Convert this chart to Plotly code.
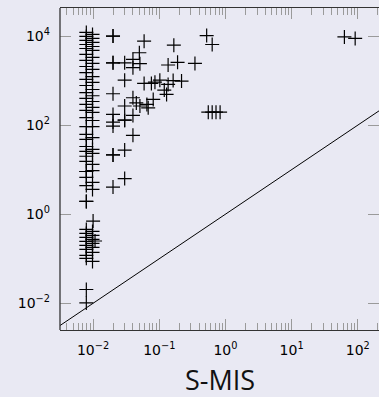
import plotly.graph_objects as go

# Dense column near S-MIS ~ 0.008
col_a_x = 0.0079
col_a_y = [12050, 9790, 7960, 6470, 5260, 3860, 2830, 2075, 1510, 1070, 776, 537, 398,
           292, 214, 148, 93, 62, 47.9, 33.1, 25.7, 20, 15.3, 9.1, 9.1, 6.7, 4.4, 1.94,
           1.94, 0.456, 0.371, 0.301, 0.245, 0.20, 0.162, 0.119, 0.102]
col_b_x = 0.0098
col_b_y = [10860, 8830, 7180, 5830, 4750, 3310, 2430, 1780, 1230, 912, 631, 457, 339,
           251, 193, 127, 93, 52.5, 28.5, 23.2, 13.2, 9.5, 5.2, 3.6, 0.411, 0.334,
           0.272, 0.221, 0.18, 0.139, 0.087]

# Scattered points
pts_x = [0.020, 0.020, 0.059, 0.166, 0.050, 0.020, 0.020, 0.030, 0.040, 0.040, 0.051,
         0.136, 0.189, 0.030, 0.059, 0.076, 0.086, 0.102, 0.136, 0.162, 0.217, 0.119,
         0.129, 0.020, 0.040, 0.030, 0.045, 0.051, 0.065, 0.068, 0.081, 0.020, 0.030,
         0.030, 0.040, 0.020, 0.020, 0.040, 0.020, 0.020, 0.030, 0.030, 0.020, 0.52,
         0.63, 0.346, 0.55, 0.63, 0.72, 0.83, 62.7, 91.2, 0.010, 0.0107, 0.0079, 0.0079]
pts_y = [10000, 10000, 7690, 6250, 4220, 2510, 2510, 2510, 2985, 1950, 2400,
         2240, 2570, 1023, 863, 863, 923, 1023, 820, 1000, 977, 611,
         490, 507, 412, 269, 316, 269, 292, 245, 378, 174, 129,
         129, 165, 117, 95, 59, 21.4, 21.4, 27.5, 6.3, 4.07, 10230,
         6460, 2430, 195, 195, 195, 195, 9550, 8830, 0.70, 0.25, 0.0204, 0.0102]

ref_line = [1e-3, 1e3]

x_tickvals = [0.01, 0.1, 1, 10, 100]
x_ticktext = ["10<sup>−2</sup>", "10<sup>−1</sup>", "10<sup>0</sup>", "10<sup>1</sup>", "10<sup>2</sup>"]
y_tickvals = [0.01, 1, 100, 10000]
y_ticktext = ["10<sup>−2</sup>", "10<sup>0</sup>", "10<sup>2</sup>", "10<sup>4</sup>"]

all_x = [col_a_x] * len(col_a_y) + [col_b_x] * len(col_b_y) + pts_x
all_y = col_a_y + col_b_y + pts_y

bg = "#E9E9F3"
tick_gray = "#9a9a9a"
axis_col = "#333333"
tfont = dict(family="DejaVu Sans", size=14, color="#000")

fig = go.Figure()
fig.add_trace(go.Scatter(x=ref_line, y=ref_line, mode="lines",
                         line=dict(color="black", width=1.0), hoverinfo="skip"))
fig.add_trace(go.Scatter(x=all_x, y=all_y, mode="markers",
                         marker=dict(symbol="cross-thin", size=10,
                                     line=dict(color="black", width=1.2))))

fig.update_xaxes(type="log", range=[-2.5, 2.32], showline=True, linecolor=axis_col,
                 linewidth=1.3, mirror="ticks", ticks="inside", ticklen=11,
                 tickcolor=tick_gray, tickwidth=1, tickmode="array",
                 tickvals=x_tickvals, ticktext=x_ticktext,
                 showgrid=False, zeroline=False,
                 minor=dict(ticks="inside", ticklen=7, tickcolor=tick_gray, dtick="D1",
                            showgrid=False),
                 tickfont=tfont, ticklabelstandoff=7)
fig.update_yaxes(type="log", range=[-2.6, 4.63], showline=False, mirror="ticks",
                 ticks="inside", ticklen=11, tickcolor=tick_gray, tickwidth=1,
                 tickmode="array", tickvals=y_tickvals, ticktext=y_ticktext,
                 showgrid=False, zeroline=False,
                 tickfont=tfont, ticklabelstandoff=9)

fig.add_shape(type="line", xref="x domain", yref="y domain", x0=0, x1=0, y0=0, y1=1,
              line=dict(color=axis_col, width=1.3))
fig.add_annotation(text="S-MIS", xref="paper", yref="paper", x=0.5, y=-0.155,
                   xanchor="center", yanchor="middle", showarrow=False,
                   font=dict(family="Open Sans", size=27, color="#111"))

fig.update_layout(width=379, height=397, margin=dict(l=60, r=0, t=8, b=67),
                  paper_bgcolor=bg, plot_bgcolor=bg, showlegend=False)

fig.write_html("out.html", config={"displayModeBar": False},
               post_script="document.body.style.margin='0';document.body.style.overflow='hidden';")
